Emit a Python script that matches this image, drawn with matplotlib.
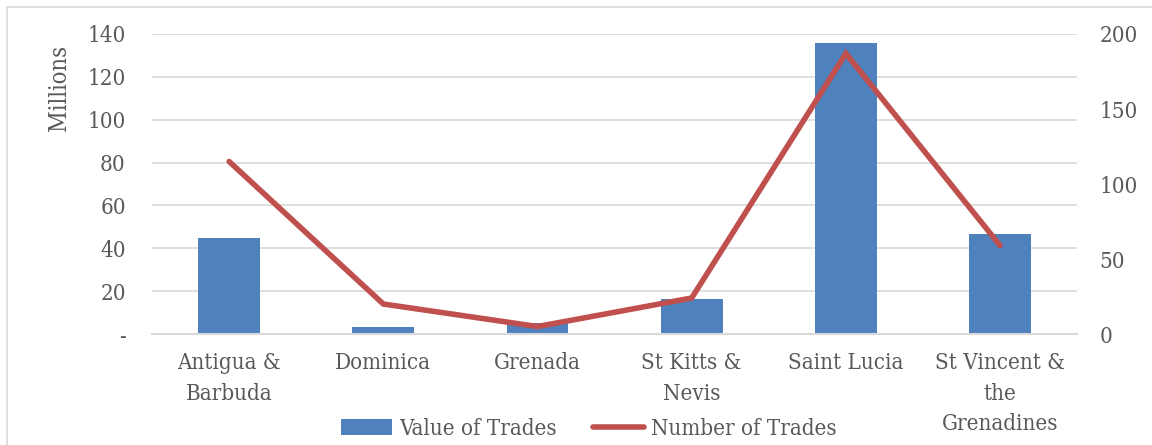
import matplotlib.pyplot as plt
from matplotlib.patches import Rectangle
import numpy as np

plt.rcParams['font.family'] = ['DejaVu Serif']
plt.rcParams['font.stretch'] = 'condensed'

categories = ['Antigua &\nBarbuda', 'Dominica', 'Grenada', 'St Kitts &\nNevis',
              'Saint Lucia', 'St Vincent &\nthe\nGrenadines']
value_of_trades = [44.8, 3.3, 5.0, 16.3, 135.8, 46.7]   # millions
number_of_trades = [115, 20, 5, 24, 187, 59]

text_col = '#595959'
grid_col = '#D9D9D9'

fig = plt.figure(figsize=(11.52, 4.45), dpi=100)
ax = fig.add_axes([0.132, 0.2494, 0.803, 0.6742])
ax2 = ax.twinx()

x = np.arange(len(categories))
ax.bar(x, value_of_trades, width=0.4, color='#4F81BD', label='Value of Trades', zorder=2)
ax2.plot(x, number_of_trades, color='#C0504D', lw=4, label='Number of Trades',
         solid_capstyle='round', solid_joinstyle='miter')

ax.set_xlim(-0.5, len(categories) - 0.5)
ax.set_ylim(0, 140)
ax.set_yticks(range(0, 141, 20))
ax.set_yticklabels(['-'] + [str(v) for v in range(20, 141, 20)])
ax2.set_ylim(0, 200)
ax2.set_yticks(range(0, 201, 50))

ax.set_xticks(x)
ax.set_xticklabels(categories, linespacing=1.5)
ax.grid(axis='y', color=grid_col, lw=1.2, zorder=0)
ax.set_axisbelow(True)

for a in (ax, ax2):
    for s in ('top', 'left', 'right', 'bottom'):
        a.spines[s].set_visible(False)
    a.tick_params(length=0, labelsize=16, labelcolor=text_col)
ax.tick_params(axis='y', pad=19)
ax2.tick_params(axis='y', pad=16)
ax.tick_params(axis='x', pad=13)
ax.axhline(0, color=grid_col, lw=1.5, zorder=3, clip_on=False)

ax.set_ylabel('Millions', fontsize=17, color=text_col)
ax.yaxis.set_label_coords(-0.088, 0.82)

h1, l1 = ax.get_legend_handles_labels()
h2, l2 = ax2.get_legend_handles_labels()
fig.legend(h1 + h2, l1 + l2, loc='center', bbox_to_anchor=(0.511, 0.036), ncol=2,
           frameon=False, fontsize=16, labelcolor=text_col, handlelength=2.3,
           handletextpad=0.3, columnspacing=1.65)

fig.patches.append(Rectangle((7 / 1152, -0.1), 2, 1.1 - 7 / 445, transform=fig.transFigure,
                             fill=False, edgecolor=grid_col, lw=1.2))

fig.savefig('out.png', dpi=100)
